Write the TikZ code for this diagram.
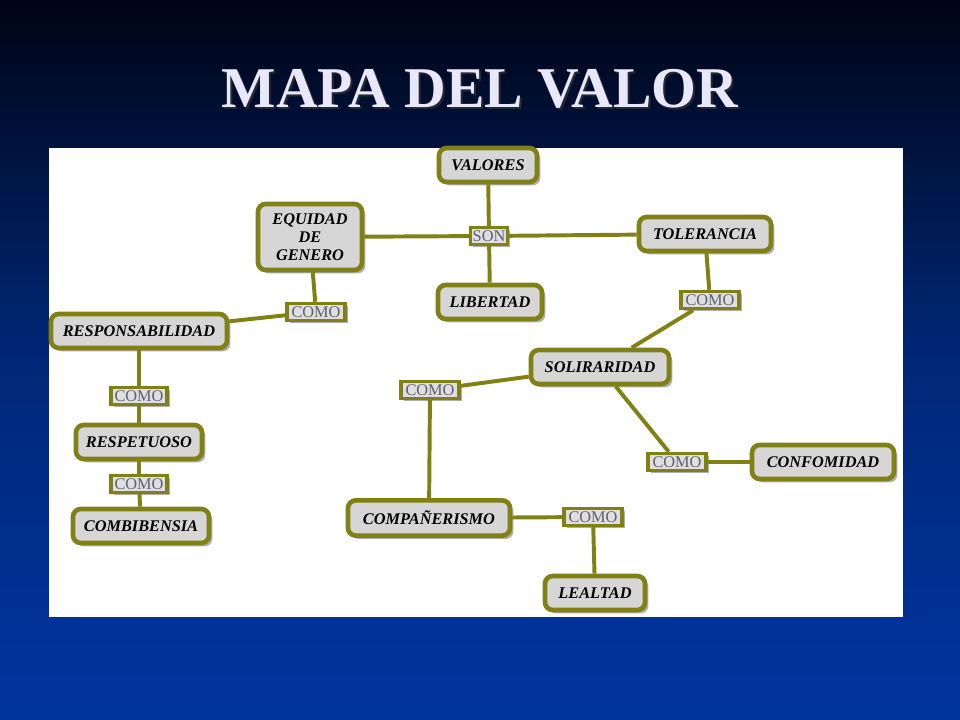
\documentclass[tikz,border=0pt]{standalone}
\usepackage{fontspec}
\setmainfont{Liberation Serif}
\usetikzlibrary{shadows}
\definecolor{oliva}{RGB}{128,128,20}
\definecolor{fondoA}{RGB}{0,4,20}
\definecolor{fondoB}{RGB}{0,40,120}
\definecolor{fondoC}{RGB}{0,52,160}
\definecolor{gristexto}{RGB}{95,95,115}
\definecolor{titulo}{RGB}{232,232,248}
\tikzset{
  concepto/.style={draw=oliva,line width=3.3pt,rounded corners=5.5pt,fill=gray!32,
    font=\bfseries\itshape\fontsize{11.6}{12.6}\selectfont,text=black,align=center,
    inner sep=2pt,
    drop shadow={shadow xshift=2.4pt,shadow yshift=-2.4pt,fill=gray!70,opacity=0.9}},
  enlace/.style={draw=oliva,line width=2.6pt,fill=gray!25,
    font=\fontsize{11.6}{12}\selectfont,text=gristexto,inner sep=1pt,
    minimum height=0.42cm,
    drop shadow={shadow xshift=1.8pt,shadow yshift=-1.8pt,fill=gray!70,opacity=0.9}},
  linea/.style={draw=oliva,line width=2.8pt}
}

\begin{document}
\begin{tikzpicture}[x=0.025cm,y=-0.025cm]
  \useasboundingbox (0,0) rectangle (960,720);

% background
  \shade[top color=fondoA,bottom color=fondoC,middle color=fondoB] (0,0) rectangle (960,720);
  \fill[white] (49,148) rectangle (903,617);

% title
  \node[text=black!80,opacity=0.7,font=\bfseries\fontsize{41}{44}\selectfont] at (482,91) {MAPA DEL VALOR};
  \node[text=titulo,font=\bfseries\fontsize{41}{44}\selectfont] (titulo) at (480,89) {MAPA DEL VALOR};

% concepts
  \node[concepto,minimum width=2.45cm,minimum height=0.85cm] (valores) at (488,165) {VALORES};
  \node[concepto,minimum width=2.6cm,minimum height=1.65cm] (equidad) at (310,237) {EQUIDAD\\DE\\GENERO};
  \node[concepto,minimum width=3.3cm,minimum height=0.85cm] (tolerancia) at (705,234) {TOLERANCIA};
  \node[concepto,minimum width=2.6cm,minimum height=0.85cm] (libertad) at (490,302) {LIBERTAD};
  \node[concepto,minimum width=4.4cm,minimum height=0.85cm] (responsabilidad) at (139,331) {RESPONSABILIDAD};
  \node[concepto,minimum width=3.45cm,minimum height=0.85cm] (solidaridad) at (600,367) {SOLIRARIDAD};
  \node[concepto,minimum width=3.15cm,minimum height=0.85cm] (respetuoso) at (139,442) {RESPETUOSO};
  \node[concepto,minimum width=3.55cm,minimum height=0.85cm] (conformidad) at (823,462) {CONFOMIDAD};
  \node[concepto,minimum width=3.4cm,minimum height=0.85cm] (convivencia) at (141,526) {COMBIBENSIA};
  \node[concepto,minimum width=4.05cm,minimum height=0.88cm] (companerismo) at (429,518) {COMPAÑERISMO};
  \node[concepto,minimum width=2.5cm,minimum height=0.85cm] (lealtad) at (595,593) {LEALTAD};

% linking words
  \node[enlace,minimum width=0.92cm] (son) at (489,236) {SON};
  \node[enlace,minimum width=1.45cm] (comoA) at (316,312) {COMO};
  \node[enlace,minimum width=1.45cm] (comoB) at (710,300) {COMO};
  \node[enlace,minimum width=1.45cm] (comoC) at (430,390) {COMO};
  \node[enlace,minimum width=1.4cm] (comoD) at (139,396) {COMO};
  \node[enlace,minimum width=1.4cm] (comoE) at (139,484) {COMO};
  \node[enlace,minimum width=1.45cm] (comoF) at (677,462) {COMO};
  \node[enlace,minimum width=1.45cm] (comoG) at (593,517) {COMO};

% connectors
  \draw[linea] (valores) -- (son);
  \draw[linea] (son) -- (libertad);
  \draw[linea] (equidad) -- (son);
  \draw[linea] (son) -- (tolerancia);
  \draw[linea] (equidad) -- (comoA);
  \draw[linea] (comoA) -- (responsabilidad);
  \draw[linea] (tolerancia) -- (comoB);
  \draw[linea] (comoB) -- (solidaridad);
  \draw[linea] (solidaridad) -- (comoC);
  \draw[linea] (comoC) -- (companerismo);
  \draw[linea] (solidaridad) -- (comoF);
  \draw[linea] (comoF) -- (conformidad);
  \draw[linea] (companerismo) -- (comoG);
  \draw[linea] (comoG) -- (lealtad);
  \draw[linea] (responsabilidad) -- (comoD);
  \draw[linea] (comoD) -- (respetuoso);
  \draw[linea] (respetuoso) -- (comoE);
  \draw[linea] (comoE) -- (convivencia);

\end{tikzpicture}
\end{document}
